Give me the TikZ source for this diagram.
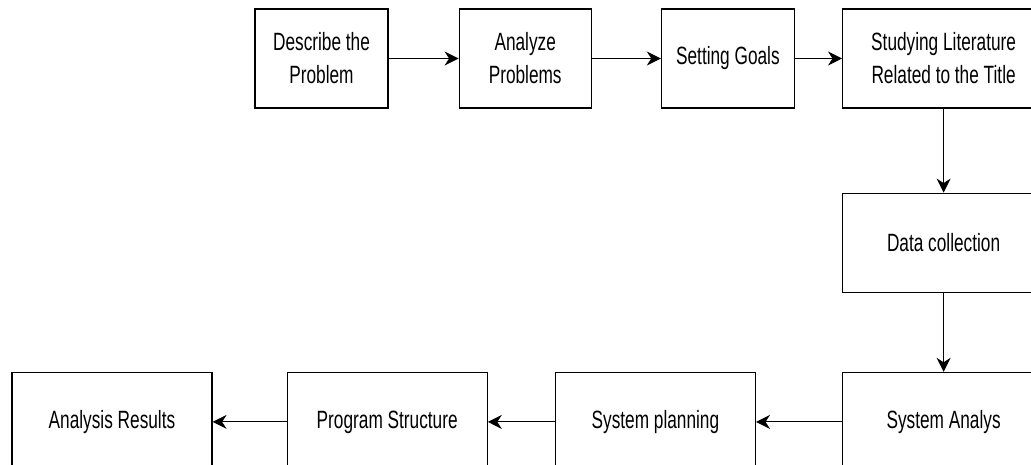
\documentclass[tikz,border=0pt]{standalone}
\usepackage{fontspec}
\setmainfont[FakeStretch=0.69]{Liberation Sans}
\usetikzlibrary{arrows.meta,positioning}
\tikzset{main base/.style={draw,line width=1.2pt,align=flush center, }, }
\tikzset{main node/.style={rectangle,main base,inner sep=0pt,
    minimum width=#1,text width=#1,minimum height=99pt,
    font=\fontsize{25}{33}\selectfont}, }
\tikzset{main node/.default=133pt}
\tikzset{linea/.style={-{Stealth[length=14pt,width=14pt,inset=4.5pt]},line width=1.2pt,draw}}

\begin{document}
\begin{tikzpicture}[x=1pt,y=1pt]
  \useasboundingbox (0,0) rectangle (1031,465);
    \node[main node] (1) at (321.5,406.5) {Describe the\\Problem};
    \node[main node=132pt] (2) [right=70pt of 1]  {Analyze\\Problems};
    \node[main node] (3) [right=69pt of 2]  {Setting Goals};
    \node[main node=202pt] (4) [right=47pt of 3]  {Studying Literature\\Related to the Title};
%%
    \node[main node=202pt] (5) [below=84pt of 4]  {Data collection};
    \node[main node=202pt] (6) [below=79pt of 5]  {System Analys};
%
    \node[main node=200pt] (7) [left=86pt of 6]  {System planning};
    \node[main node=200pt] (8) [left=67pt of 7]  {Program Structure};
    \node[main node=200pt] (9) [left=74pt of 8]  {Analysis Results};

\foreach \x /\y in{1/2,2/3,3/4,4/5,5/6,6/7,7/8,8/9}
  \path[linea] (\x) edge node {} (\y);
%
\end{tikzpicture}
\end{document}
